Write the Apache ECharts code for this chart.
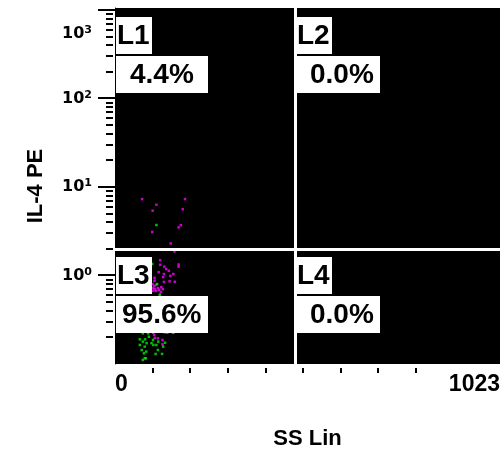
<!DOCTYPE html>
<html><head><meta charset="utf-8">
<script src="https://cdn.jsdelivr.net/npm/echarts@6/dist/echarts.min.js"></script>
<style>html,body{margin:0;padding:0;background:#fff}#c{width:503px;height:450px}</style>
</head><body><div id="c"></div>
<script>
// ---- data ----
const xRange = [0, 1023];
const yRange = [0.1, 1053];
const xMinorTicks = [100, 200, 300, 400, 500, 600, 700, 800];
const yMajorTicks = [1, 10, 100, 1000];
const yMinorTicks = [0.2, 0.3, 0.4, 0.5, 0.6, 0.7, 0.8, 0.9,
  2, 3, 4, 5, 6, 7, 8, 9, 20, 30, 40, 50, 60, 70, 80, 90,
  200, 300, 400, 500, 600, 700, 800, 900];
const quadrantX = 479;
const quadrantY = 2.0;
const quadNames = ['L1', 'L2', 'L3', 'L4'];
const quadPercents = ['4.4%', '0.0%', '95.6%', '0.0%'];
const xAxisTitle = 'SS Lin';
const yAxisTitle = 'IL-4 PE';
const magentaPoints = [
  [72, 7.3], [186, 7.3], [110, 6.3], [180, 5.6], [100, 5.4], [175, 3.7], [169, 3.5],
  [99, 3.1], [148, 2.3], [158, 1.87], [120, 1.49], [120, 1.32], [169, 1.33], [169, 1.26],
  [131, 1.26], [136, 1.18], [143, 1.13], [116, 1.09], [130, 1.04], [155, 1.04], [147, 0.99],
  [105, 0.94], [128, 0.96], [105, 0.87], [145, 0.86], [159, 0.85], [130, 0.845], [123, 0.74],
  [100, 0.80], [104, 0.76], [109, 0.78], [101, 0.72], [106, 0.70], [114, 0.72], [101, 0.67],
  [109, 0.67], [117, 0.69], [122, 0.65], [127, 0.70], [104, 0.213], [132, 0.227], [154, 0.225],
  [114, 0.195], [126, 0.187], [126, 0.167], [106, 0.197]
];
const greenPoints = [
  [110, 3.72], [99, 1.35], [112, 0.80], [119, 0.607],
  [74, 0.222], [88, 0.222], [101, 0.226], [139, 0.226], [155, 0.227], [66, 0.190],
  [74, 0.179], [80, 0.190], [90, 0.203], [101, 0.187], [110, 0.164], [79, 0.157],
  [83, 0.138], [77, 0.132], [114, 0.144], [125, 0.130], [108, 0.130], [79, 0.116],
  [74, 0.111], [71, 0.144], [66, 0.164], [115, 0.179], [133, 0.174], [128, 0.157],
  [82, 0.116], [84, 0.172], [97, 0.172], [102, 0.164]
];

// ---- chart ----
const chart = echarts.init(document.getElementById('c'), null, {renderer: 'canvas'});
const FONT = 'Liberation Sans';

function tickSeries(data, drawFn) {
  return {
    type: 'custom', coordinateSystem: 'cartesian2d', silent: true, clip: false, z: 5,
    data: data,
    renderItem: function (params, api) {
      const p = api.coord([api.value(0), api.value(1)]);
      return drawFn(p);
    }
  };
}

chart.setOption({
  animation: false,
  grid: {left: 115, top: 8, right: 3, bottom: 86, show: true, backgroundColor: '#000', borderWidth: 0,
    containLabel: false, outerBoundsMode: 'none'},
  xAxis: {
    type: 'value', min: xRange[0], max: xRange[1], interval: 1023,
    axisLine: {show: false}, axisTick: {show: false}, splitLine: {show: false},
    axisLabel: {
      color: '#000', fontFamily: FONT, fontWeight: 'bold', fontSize: 23, margin: 9,
      alignMinLabel: 'left', alignMaxLabel: 'right',
      formatter: function (v) { return String(v); }
    },
    name: xAxisTitle, nameLocation: 'middle', nameGap: 64,
    nameTextStyle: {color: '#000', fontFamily: FONT, fontWeight: 'bold', fontSize: 22}
  },
  yAxis: {
    type: 'log', logBase: 10, min: yRange[0], max: yRange[1],
    axisLine: {show: true, lineStyle: {color: '#000', width: 1}},
    axisTick: {show: false}, splitLine: {show: false}, minorTick: {show: false},
    axisLabel: {
      margin: 23, color: '#000',
      formatter: function (v) {
        const l = Math.log10(v);
        const e = Math.round(l);
        if (Math.abs(l - e) > 1e-6 || e < 0) return '';
        if (e === 3) return '{pad| }\n{b|10}{s|' + e + '}';
        return '{b|10}{s|' + e + '}';
      },
      rich: {
        pad: {lineHeight: 47, fontSize: 10},
        b: {fontFamily: 'DejaVu Sans', fontWeight: 'bold', fontSize: 16, lineHeight: 18, color: '#000'},
        s: {fontFamily: 'DejaVu Sans', fontWeight: 'bold', fontSize: 11, lineHeight: 14, verticalAlign: 'top', color: '#000'}
      }
    },
    name: yAxisTitle, nameLocation: 'middle', nameRotate: 90, nameGap: 68,
    nameTextStyle: {color: '#000', fontFamily: FONT, fontWeight: 'bold', fontSize: 22}
  },
  series: [
    {
      type: 'scatter', symbol: 'rect', symbolSize: 2.5, silent: true,
      itemStyle: {color: '#ff00ff'}, data: magentaPoints, z: 2
    },
    {
      type: 'scatter', symbol: 'rect', symbolSize: 2.5, silent: true,
      itemStyle: {color: '#00ee00'}, data: greenPoints, z: 2,
      markLine: {
        silent: true, symbol: 'none', animation: false,
        label: {show: false},
        lineStyle: {color: '#fff', width: 3, type: 'solid'},
        data: [{xAxis: quadrantX}, {yAxis: quadrantY}]
      }
    },
    tickSeries(yMajorTicks.map(v => [xRange[0], v]), p => ({
      type: 'line', shape: {x1: p[0] - 17, y1: Math.round(p[1]), x2: p[0], y2: Math.round(p[1])},
      style: {stroke: '#000', lineWidth: 2}
    })),
    tickSeries(yMinorTicks.map(v => [xRange[0], v]), p => ({
      type: 'line', shape: {x1: p[0] - 9, y1: Math.round(p[1]), x2: p[0] - 2, y2: Math.round(p[1])},
      style: {stroke: '#000', lineWidth: 2}
    })),
    tickSeries(xMinorTicks.map(v => [v, yRange[0]]), p => ({
      type: 'line', shape: {x1: Math.round(p[0]), y1: p[1] + 4, x2: Math.round(p[0]), y2: p[1] + 9},
      style: {stroke: '#000', lineWidth: 2}
    }))
  ]
});

// ---- quadrant labels (anchored to quadrant corners through the axes) ----
const anchors = [
  [xRange[0], yRange[1]], [quadrantX, yRange[1]],
  [xRange[0], quadrantY], [quadrantX, quadrantY]
];
const elements = [];
anchors.forEach(function (a, i) {
  const p = chart.convertToPixel({gridIndex: 0}, a);
  const left = Math.round(p[0]) + 1;
  const top = Math.round(p[1] + 8.5);
  const pctW = (i % 2 === 0) ? 92 : 84;
  elements.push({type: 'rect', z: 100, shape: {x: left, y: top, width: 36, height: 37}, style: {fill: '#fff'}});
  elements.push({type: 'rect', z: 100, shape: {x: left, y: top + 39, width: pctW, height: 37}, style: {fill: '#fff'}});
  elements.push({type: 'text', z: 101, x: left + 1, y: top + 19,
    style: {text: quadNames[i], fill: '#000', font: 'bold 28px "Liberation Sans"', textAlign: 'left', textVerticalAlign: 'middle'}});
  const pad = 6 + (5 - quadPercents[i].length) * 8;
  elements.push({type: 'text', z: 101, x: left + pad, y: top + 39 + 19,
    style: {text: quadPercents[i], fill: '#000', font: 'bold 28px "Liberation Sans"', textAlign: 'left', textVerticalAlign: 'middle'}});
});
chart.setOption({graphic: {elements: elements}});
</script>
</body></html>
